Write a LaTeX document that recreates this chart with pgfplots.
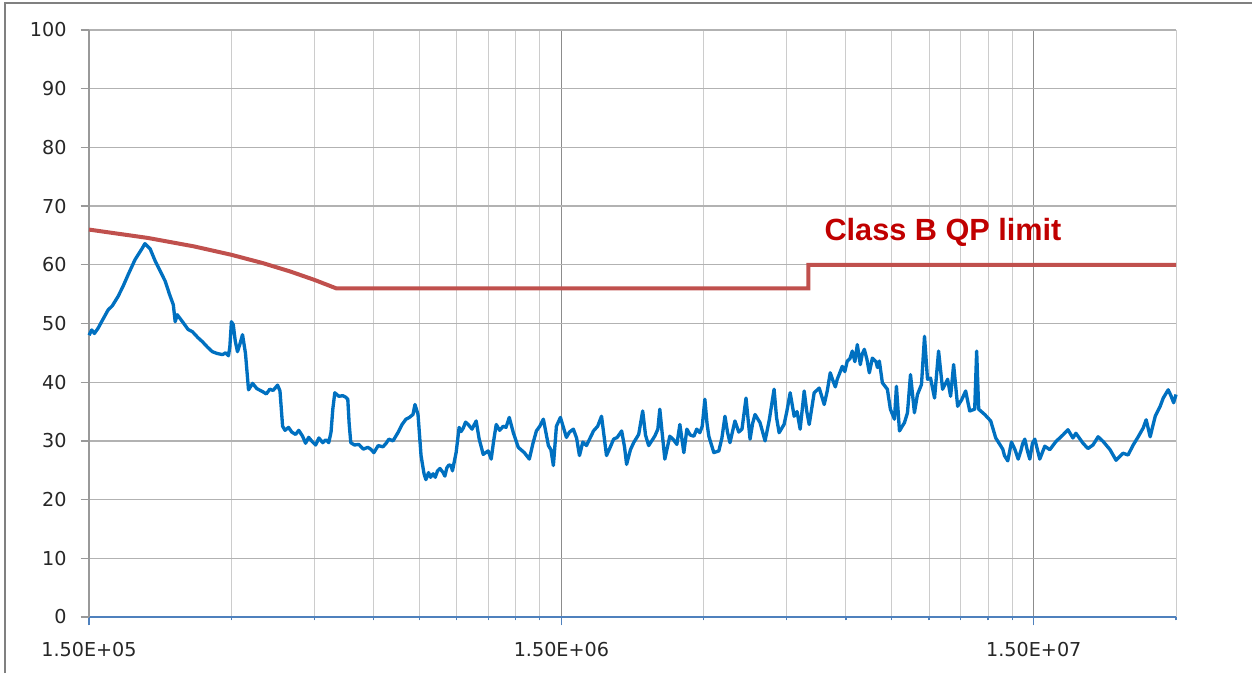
\documentclass[border=0pt]{standalone}
\usepackage{fontspec}
\setmainfont{DejaVu Sans}
\newfontfamily\arialfont{Liberation Sans}
\usepackage{pgfplots}
\usepackage{pgfplotstable}
\pgfplotsset{compat=1.18}
\definecolor{trace}{HTML}{0070C0}
\definecolor{limitred}{HTML}{C0504D}
\definecolor{labelred}{HTML}{C00000}
\definecolor{axisblue}{HTML}{4F81BD}

% measured emission, frequency in kHz, level in dBuV
\pgfplotstableread{
f v
150 48.0
152 48.9
154 48.3
156.8 49.2
160 50.5
164.6 52.3
168 53.0
172.8 54.6
177 56.3
181.5 58.3
187.8 60.9
194.4 62.8
197 63.6
199.2 63.2
202.1 62.7
207.2 60.6
212 59.0
217.5 57.2
222 55.0
226.2 53.2
228.3 50.3
230.6 51.5
237.6 50.1
243 49.0
248.3 48.6
255 47.6
260.7 46.9
267 46.0
273.6 45.2
280 44.9
287.4 44.7
292 45.0
296.0 44.5
298.0 46.0
300.3 50.3
303 49.8
306 47.0
309.3 45.2
313 46.5
317.0 48.1
321.6 44.9
326.4 38.7
332.9 39.8
340 38.9
349.5 38.4
356 38.0
362 38.8
368 38.6
376.1 39.5
380.5 38.5
385.4 32.5
390 31.8
396.8 32.3
403 31.5
410.6 31.1
417 31.8
424.8 30.8
431 29.6
437.6 30.6
445 29.9
452.7 29.3
460 30.5
468.6 29.7
476 30.2
482.6 29.7
488 31.5
492.2 35.4
497.0 38.2
507 37.6
516.8 37.7
523 37.5
529.5 37.1
533 33.0
537.3 29.7
547 29.3
558.8 29.4
571 28.6
583.8 28.9
592 28.6
601.4 28.0
614 29.2
628.5 29.0
637 29.5
647.1 30.3
660 30.0
676.1 31.4
690 32.8
703.2 33.7
715 34.0
727.7 34.5
734.7 36.2
745.7 34.5
756.8 27.5
767.9 24.4
775 23.4
785 24.6
793 23.8
802.4 24.4
811 23.8
820 24.9
830 25.3
842.6 24.6
850 24.0
858 25.4
867 25.9
876.2 25.8
882 24.9
889 26.3
897.8 28.0
911.1 32.3
920 31.6
930 32.2
940 33.2
952.1 32.8
970 32.0
990.0 33.4
1004.7 30.3
1024.5 27.7
1049.7 28.3
1065.3 26.9
1078 30.0
1091.7 32.8
1110 31.8
1129.7 32.5
1145 32.3
1163.3 34.0
1186.4 31.4
1215.6 28.9
1251.8 28.0
1282.8 26.9
1305 29.5
1327.7 31.7
1350 32.5
1373.7 33.7
1407.8 29.2
1425 28.5
1442.4 25.8
1463.9 32.5
1492.8 34.0
1537 30.6
1560 31.5
1590 32.0
1615 30.5
1638 27.5
1665 29.8
1695 29.2
1754 31.7
1790 32.5
1824 34.2
1869 27.5
1900 28.8
1935 30.3
1970 30.6
2012 31.7
2040 29.0
2061 26.0
2100 28.5
2133 29.7
2186 31.1
2229 35.1
2260 31.0
2295 29.2
2364 30.8
2400 32.0
2423 35.4
2450 31.5
2483 26.9
2544 30.8
2590 30.2
2633 29.4
2672 32.8
2724 28.0
2765 32.0
2810 31.0
2861 30.8
2900 32.0
2945 31.4
2980 32.5
3018 37.1
3050 33.0
3077 30.8
3153 28.0
3231 28.3
3280 30.5
3329 34.2
3370 31.5
3411 29.7
3495 33.4
3560 31.5
3617 32.0
3689 37.3
3762 30.3
3810 33.0
3855 34.5
3950 33.1
4000 31.5
4047 30.0
4130 33.5
4229 38.8
4280 34.0
4334 31.4
4440 32.8
4500 35.0
4574 38.2
4664 34.2
4730 35.0
4802 32.0
4898 38.5
4960 35.0
5019 32.8
5142 38.2
5270 39.0
5400 36.2
5480 38.5
5561 41.6
5650 40.0
5700 39.2
5754 40.5
5820 41.5
5897 42.7
5970 41.8
6042 43.6
6120 44.0
6192 45.3
6270 43.5
6345 46.4
6439 43.0
6500 44.8
6566 45.6
6650 43.9
6729 41.6
6828 44.1
6950 43.5
7000 42.5
7065 43.6
7170 39.9
7347 38.8
7456 35.4
7605 33.7
7679 39.3
7793 31.7
7900 32.5
7985 33.1
8103 34.8
8223 41.3
8382 34.8
8507 37.9
8675 39.6
8804 47.8
8934 40.5
9066 40.7
9246 37.3
9429 45.3
9615 38.8
9854 40.5
9999 37.6
10146 43.0
10347 35.9
10550 37.0
10760 38.5
10973 35.1
11244 35.4
11352 45.3
11465 35.4
11805 34.5
12156 33.4
12458 30.5
12891 28.6
13000 27.5
13211 26.6
13450 29.8
13670 28.6
13900 26.9
14078 28.3
14200 29.5
14355 30.3
14550 28.2
14709 26.9
14900 29.6
15073 30.3
15440 26.9
15825 29.1
16215 28.5
16710 29.9
17280 31.0
17715 31.9
18150 30.5
18420 31.3
19065 29.6
19530 28.7
20010 29.3
20520 30.7
21030 29.9
21750 28.5
22395 26.7
23175 27.9
23745 27.6
24345 29.3
24945 30.7
25560 32.2
25935 33.6
26445 30.7
27105 34.2
27765 35.9
28185 37.3
28875 38.7
29300 37.6
29650 36.5
30000 37.9
}\measured

% CISPR 22 class B quasi-peak limit
\pgfplotstableread{
f v
150 66
200 64.57
250 63.14
300 61.71
350 60.29
400 58.86
450 57.43
500 56
5000 56
5000 60
30000 60
}\qplimit

\begin{document}
\begin{tikzpicture}
\useasboundingbox (0,0) rectangle (751.2pt,403.8pt);
\draw[black!50, line width=0.8pt] (3pt,0) -- (3pt,402pt) -- (751.2pt,402pt);
\begin{axis}[
    at={(53.4pt,33.6pt)}, anchor=south west,
    scale only axis, width=652.2pt, height=352.2pt,
    xmode=log, xmin=150, xmax=30000,
    ymin=0, ymax=100, ytick={0,10,...,100},
    xtick={150,1500,15000},
    xticklabels={1.50E+05,1.50E+06,1.50E+07},
    minor xtick={300,450,600,750,900,1050,1200,1350,3000,4500,6000,7500,9000,10500,12000,13500,30000},
    axis x line*=bottom, axis y line*=left,
    x axis line style={color=axisblue, line width=0.8pt, -},
    y axis line style={color=black!40, line width=0.8pt, -},
    xtick style={color=axisblue, line width=0.8pt},
    ytick style={color=black!40, line width=0.8pt},
    tick align=outside,
    major tick length=5pt, minor tick length=2pt,
    grid=both,
    major x grid style={color=black!45, line width=0.6pt},
    minor x grid style={color=black!20, line width=0.6pt},
    major y grid style={color=black!30, line width=0.8pt},
    /pgf/number format/assume math mode=true,
    ticklabel style={font=\fontsize{11.5}{13}\selectfont, text=black!85},
    xticklabel style={yshift=-6.5pt},
    yticklabel style={xshift=-5pt},
    clip=false,
]
\addplot[trace, line width=2pt, line join=round] table[x=f, y=v] {\measured};
\addplot[limitred, line width=2.4pt] table[x=f, y=v] {\qplimit};
\node[anchor=base west, inner sep=0pt, text=labelred,
      font=\arialfont\bfseries\fontsize{18.4}{20}\selectfont]
      at (axis cs:5400,64.2) {Class B QP limit};
\end{axis}
\end{tikzpicture}
\end{document}
